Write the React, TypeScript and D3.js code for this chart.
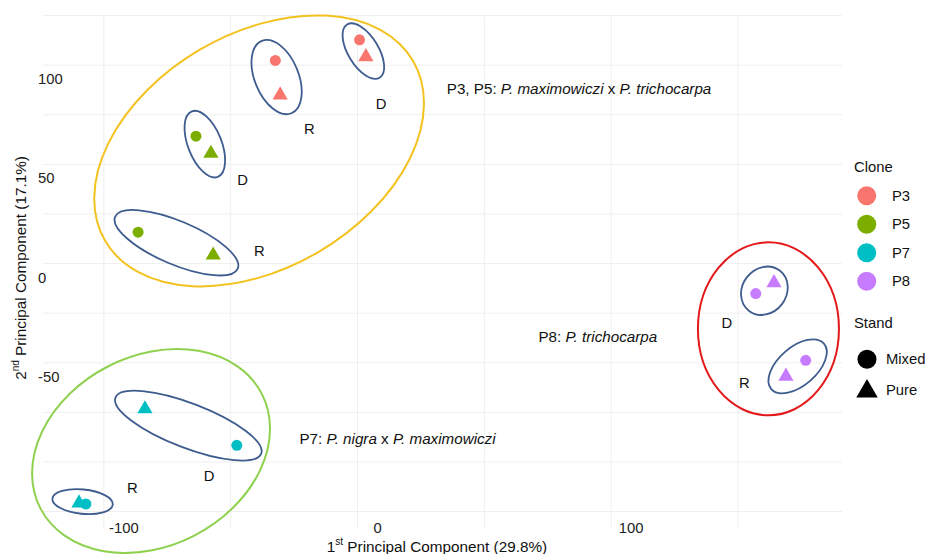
import React from "react";
import * as d3 from "d3";

// ---- data ----
const clones = ["P3", "P5", "P7", "P8"];
const cloneColors = ["#F8766D", "#7CAE00", "#00BFC4", "#C77CFF"];
const stands = ["Mixed", "Pure"];
const xTicks = [-100, 0, 100];
const yTicks = [-50, 0, 50, 100];

const sampleClone = ["P3", "P3", "P3", "P3", "P5", "P5", "P5", "P5", "P7", "P7", "P7", "P7", "P8", "P8", "P8", "P8"];
const sampleSite = ["D", "D", "R", "R", "D", "D", "R", "R", "D", "D", "R", "R", "D", "D", "R", "R"];
const sampleStand = ["Mixed", "Pure", "Mixed", "Pure", "Mixed", "Pure", "Mixed", "Pure", "Pure", "Mixed", "Pure", "Mixed", "Mixed", "Pure", "Mixed", "Pure"];
const pc1 = [0.8, 3.3, -32.4, -30.5, -63.7, -57.8, -86.5, -56.9, -83.8, -47.6, -109.8, -107.1, 157.0, 164.2, 176.7, 168.9];
const pc2 = [112.8, 104.2, 102.4, 84.9, 64.2, 55.5, 15.8, 4.2, -73.3, -91.6, -120.7, -121.2, -15.1, -9.7, -48.8, -56.8];

// annotation ellipses (data units): center, half-width (x units), half-height (y units), x offset of top point
const ellName = ["P3P5", "P7", "P8", "P3D", "P3R", "P5D", "P5R", "P7D", "P7R", "P8D", "P8R"];
const ellCx = [-38.8, -81.4, 162.0, 2.3, -31.9, -60.2, -71.4, -66.7, -108.4, 160.4, 173.5];
const ellCy = [56.8, -94.5, -32.9, 107.1, 94.0, 60.2, 10.5, -81.7, -120.0, -13.7, -51.8];
const ellHw = [65.0, 46.9, 27.8, 8.2, 9.9, 8.0, 24.4, 28.9, 11.9, 9.2, 11.5];
const ellHh = [68.3, 51.4, 43.6, 14.0, 18.7, 16.8, 16.5, 17.6, 6.3, 12.2, 13.6];
const ellTop = [22.9, 10.3, 0, -4.7, -3.9, -3.9, -17.1, -21.2, -2.4, 1.2, 6.1];
const ellKind = ["yellow", "green", "red", "blue", "blue", "blue", "blue", "blue", "blue", "blue", "blue"];

// D / R labels
const siteLabel = ["D", "R", "D", "R", "D", "R", "D", "R"];
const siteLabelX = [9.3, -19.0, -45.3, -38.7, -58.5, -88.8, 145.6, 152.5];
const siteLabelY = [80.5, 67.9, 42.2, 6.5, -106.9, -113.0, -30.1, -60.3];

// species annotations: [plain prefix, italic, plain, italic]
const speciesParts = [
  ["P3, P5: ", "P. maximowiczi", " x ", "P. trichocarpa"],
  ["P7: ", "P. nigra", " x ", "P. maximowiczi"],
  ["P8: ", "P. trichocarpa", "", ""],
];
const speciesX = [35.2, -22.9, 71.3];
const speciesY = [88.4, -87.7, -36.3];

const W = 925;
const H = 554;
const FONT = "'Liberation Sans', Arial, Helvetica, sans-serif";
const ELL_COLORS: Record<string, string> = {
  yellow: "#F4C21F",
  green: "#8FD14F",
  red: "#E3191B",
  blue: "#3E5C8E",
};

function ellipseParams(hw: number, hh: number, dxTop: number) {
  const S = hw * hw + hh * hh;
  const c2 = hw * hw - hh * hh;
  const s2 = -2 * dxTop * hh;
  const delta = Math.sqrt(c2 * c2 + s2 * s2);
  const theta = Math.atan2(s2, c2) / 2;
  const a = Math.sqrt((S + delta) / 2);
  const b = Math.sqrt(Math.max(0, (S - delta) / 2));
  return { a, b, deg: (theta * 180) / Math.PI };
}

export default function App() {
  const x = d3.scaleLinear().domain([-124, 191]).range([43, 842]);
  const y = d3.scaleLinear().domain([-133.3, 125.3]).range([528, 15]);
  const color = d3.scaleOrdinal<string, string>().domain(clones).range(cloneColors);
  const kx = Math.abs(x(1) - x(0));
  const ky = Math.abs(y(1) - y(0));

  const gridX = d3.range(-100, 151, 50);
  const gridY = d3.range(-125, 126, 25);

  const [x0, x1] = x.range();
  const [yb, yt] = y.range();

  const tri = d3.symbol().type(d3.symbolTriangle).size(100)();
  const triLegend = d3.symbol().type(d3.symbolTriangle).size(200)();

  const points = pc1.map((v, i) => ({
    x: v,
    y: pc2[i],
    clone: sampleClone[i],
    stand: sampleStand[i],
    site: sampleSite[i],
  }));

  return (
    <svg width={W} height={H} style={{ position: "absolute", left: 0, top: 0, background: "#fff" }} fontFamily={FONT}>
      <rect width={W} height={H} fill="#fff" />
      {/* grid */}
      <g stroke="#EFEFEF" strokeWidth={1}>
        {gridX.map((g) => (
          <line key={"gx" + g} x1={x(g)} x2={x(g)} y1={yt} y2={yb} />
        ))}
        {gridY.map((g) => (
          <line key={"gy" + g} x1={x0} x2={x1} y1={y(g)} y2={y(g)} />
        ))}
      </g>
      {/* tick labels */}
      <g fontSize={14.8} fill="#222">
        {xTicks.map((t) => (
          <text key={"xt" + t} x={x(t)} dx={20} y={528} textAnchor="middle" dominantBaseline="central">
            {t}
          </text>
        ))}
        {yTicks.map((t) => (
          <text key={"yt" + t} x={38} y={y(t)} dy={14} textAnchor="start" dominantBaseline="central">
            {t}
          </text>
        ))}
      </g>
      {/* axis titles */}
      <text x={437} y={546} textAnchor="middle" dominantBaseline="central" fontSize={15.3} fill="#111">
        1<tspan fontSize={10} dy={-5}>st</tspan>
        <tspan dy={5}> Principal Component (29.8%)</tspan>
      </text>
      <text
        transform={`translate(20,${268}) rotate(-90)`}
        textAnchor="middle"
        dominantBaseline="central"
        fontSize={15.3}
        fill="#111"
      >
        2<tspan fontSize={10} dy={-5}>nd</tspan>
        <tspan dy={5}> Principal Component (17.1%)</tspan>
      </text>

      {/* ellipses */}
      <g fill="none">
        {ellName.map((n, i) => {
          const p = ellipseParams(ellHw[i] * kx, ellHh[i] * ky, ellTop[i] * kx);
          return (
            <ellipse
              key={n}
              transform={`translate(${x(ellCx[i])},${y(ellCy[i])}) rotate(${p.deg})`}
              rx={p.a}
              ry={p.b}
              stroke={ELL_COLORS[ellKind[i]]}
              strokeWidth={ellKind[i] === "blue" ? 1.8 : 2}
            />
          );
        })}
      </g>

      {/* points */}
      <g>
        {points.map((d, i) =>
          d.stand === "Mixed" ? (
            <circle key={i} cx={x(d.x)} cy={y(d.y)} r={5.5} fill={color(d.clone)} />
          ) : (
            <path key={i} d={tri!} transform={`translate(${x(d.x)},${y(d.y)})`} fill={color(d.clone)} />
          )
        )}
      </g>

      {/* site labels */}
      <g fontSize={14.8} fill="#111">
        {siteLabel.map((s, i) => (
          <text key={"sl" + i} x={x(siteLabelX[i])} y={y(siteLabelY[i])} textAnchor="middle" dominantBaseline="central">
            {s}
          </text>
        ))}
      </g>

      {/* species annotations */}
      <g fontSize={15.2} fill="#111">
        {speciesParts.map((parts, i) => (
          <text key={"sp" + i} x={x(speciesX[i])} y={y(speciesY[i])} dominantBaseline="central">
            <tspan>{parts[0]}</tspan>
            <tspan fontStyle="italic">{parts[1]}</tspan>
            {parts[2] ? <tspan>{parts[2]}</tspan> : null}
            {parts[3] ? <tspan fontStyle="italic">{parts[3]}</tspan> : null}
          </text>
        ))}
      </g>

      {/* legend */}
      <g fontSize={14.8} fill="#111">
        <text x={854} y={167} dominantBaseline="central">Clone</text>
        {clones.map((c, i) => (
          <g key={c} transform={`translate(0,${195.7 + i * 28.5})`}>
            <circle cx={866.7} cy={0} r={9.5} fill={color(c)} />
            <text x={892} y={0} dominantBaseline="central">{c}</text>
          </g>
        ))}
        <text x={854} y={323.3} dominantBaseline="central">Stand</text>
        {stands.map((s, i) => (
          <g key={s} transform={`translate(0,${359.3 + i * 31})`}>
            {s === "Mixed" ? (
              <circle cx={867} cy={0} r={9.5} fill="#000" />
            ) : (
              <path d={triLegend!} transform="translate(867,1)" fill="#000" />
            )}
            <text x={886} y={0} dominantBaseline="central">{s}</text>
          </g>
        ))}
      </g>
    </svg>
  );
}
